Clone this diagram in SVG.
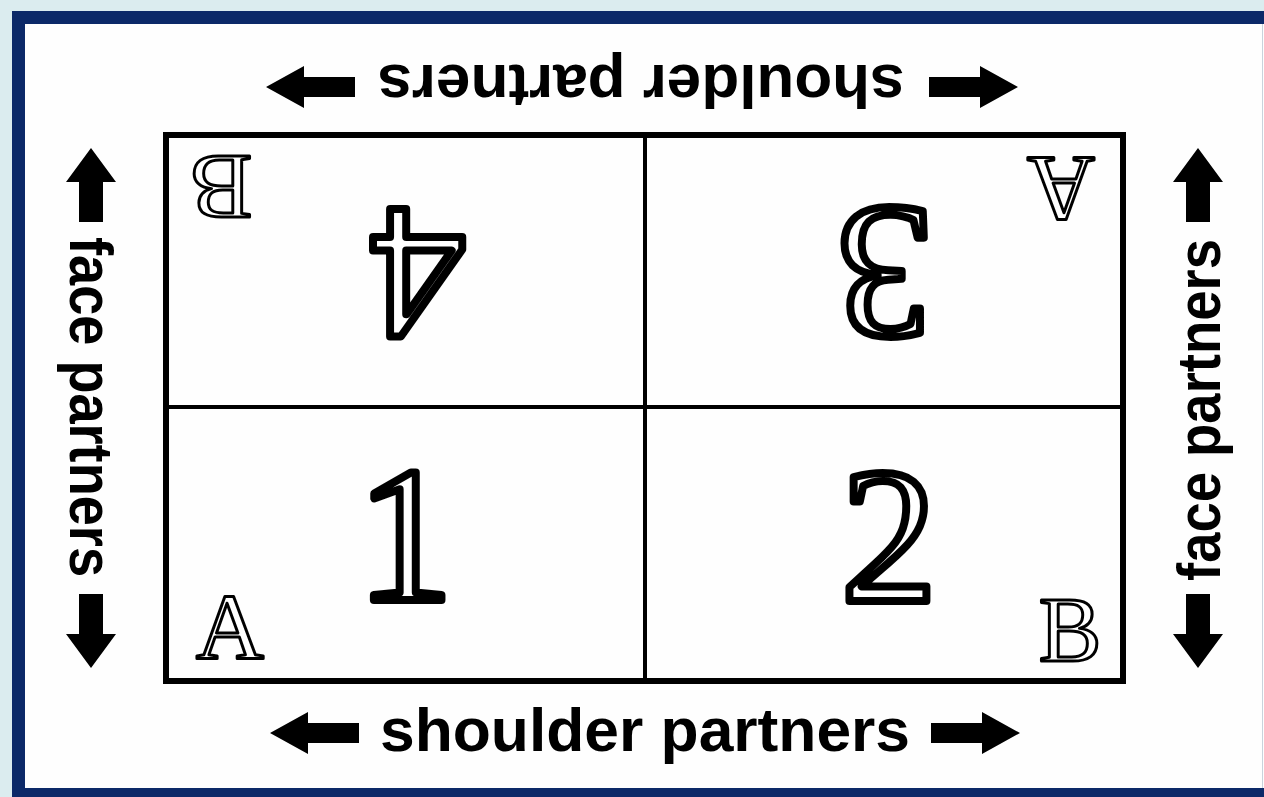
<svg xmlns="http://www.w3.org/2000/svg" width="1264" height="797" viewBox="0 0 1264 797">
  <style>
    .lbl { font-family: "Liberation Sans", Arial, sans-serif; font-weight: bold; font-size: 62px; fill: #000; }
    .num { font-family: "Liberation Serif", "Times New Roman", serif; font-weight: normal; font-size: 192px; fill: #fff; stroke: #000; stroke-width: 8; stroke-linejoin: round; }
    .let { font-family: "Liberation Serif", "Times New Roman", serif; font-weight: normal; font-size: 94px; fill: #fff; stroke: #000; stroke-width: 3; stroke-linejoin: round; }
    .grid { fill: none; stroke: #000; }
  </style>
  <defs>
    <path id="harrow" d="M-89,-10 H-38 V-21 L0,0 L-38,21 V10 H-89 Z" fill="#000"/>
    <path id="varrow" d="M0,0 L25,34 H12 V74 H-12 V34 H-25 Z" fill="#000"/>
  </defs>

  <!-- background and frame -->
  <rect x="0" y="0" width="1264" height="797" fill="#dbecef"/>
  <rect x="12" y="11" width="1252" height="786" fill="#0c2968"/>
  <rect x="25" y="24" width="1239" height="764" fill="#fefefe"/>
  <line x1="1262.5" y1="24" x2="1262.5" y2="788" stroke="#c9d3dc" stroke-width="1"/>

  <!-- grid -->
  <g id="grid">
    <rect class="grid" x="166" y="135" width="957" height="546" stroke-width="6"/>
    <line class="grid" x1="645" y1="135" x2="645" y2="681" stroke-width="4"/>
    <line class="grid" x1="166" y1="407" x2="1123" y2="407" stroke-width="4"/>
  </g>

  <!-- cells -->
  <g id="cell-1">
    <text class="num" x="405" y="600" text-anchor="middle">1</text>
    <text class="let" x="230" y="658" text-anchor="middle">A</text>
  </g>
  <g id="cell-2">
    <text class="num" x="889" y="601" text-anchor="middle">2</text>
    <text class="let" x="1070" y="661" text-anchor="middle">B</text>
  </g>
  <g id="cell-3">
    <text class="num" transform="translate(885,209) rotate(180)" text-anchor="middle">3</text>
    <text class="let" transform="translate(1061,158) rotate(180)" text-anchor="middle">A</text>
  </g>
  <g id="cell-4">
    <text class="num" transform="translate(418,209) rotate(180)" text-anchor="middle">4</text>
    <text class="let" transform="translate(221,156) rotate(180)" text-anchor="middle">B</text>
  </g>

  <!-- labels -->
  <g id="label-top">
    <text class="lbl" transform="translate(641,65) rotate(180)" text-anchor="middle" textLength="527" lengthAdjust="spacingAndGlyphs">shoulder partners</text>
  </g>
  <g id="label-bottom">
    <text class="lbl" x="645" y="751" text-anchor="middle" textLength="530" lengthAdjust="spacingAndGlyphs">shoulder partners</text>
  </g>
  <g id="label-left">
    <text class="lbl" transform="translate(70,407) rotate(90)" text-anchor="middle" textLength="340" lengthAdjust="spacingAndGlyphs">face partners</text>
  </g>
  <g id="label-right">
    <text class="lbl" transform="translate(1220,410) rotate(-90)" text-anchor="middle" textLength="342" lengthAdjust="spacingAndGlyphs">face partners</text>
  </g>

  <!-- connectors (arrows) -->
  <g id="connectors">
    <use href="#harrow" transform="translate(266,87) rotate(180)"/>
    <use href="#harrow" transform="translate(1018,87)"/>
    <use href="#harrow" transform="translate(270,733) rotate(180)"/>
    <use href="#harrow" transform="translate(1020,733)"/>
    <use href="#varrow" transform="translate(91,148)"/>
    <use href="#varrow" transform="translate(91,668) rotate(180)"/>
    <use href="#varrow" transform="translate(1198,148)"/>
    <use href="#varrow" transform="translate(1198,668) rotate(180)"/>
  </g>
</svg>
